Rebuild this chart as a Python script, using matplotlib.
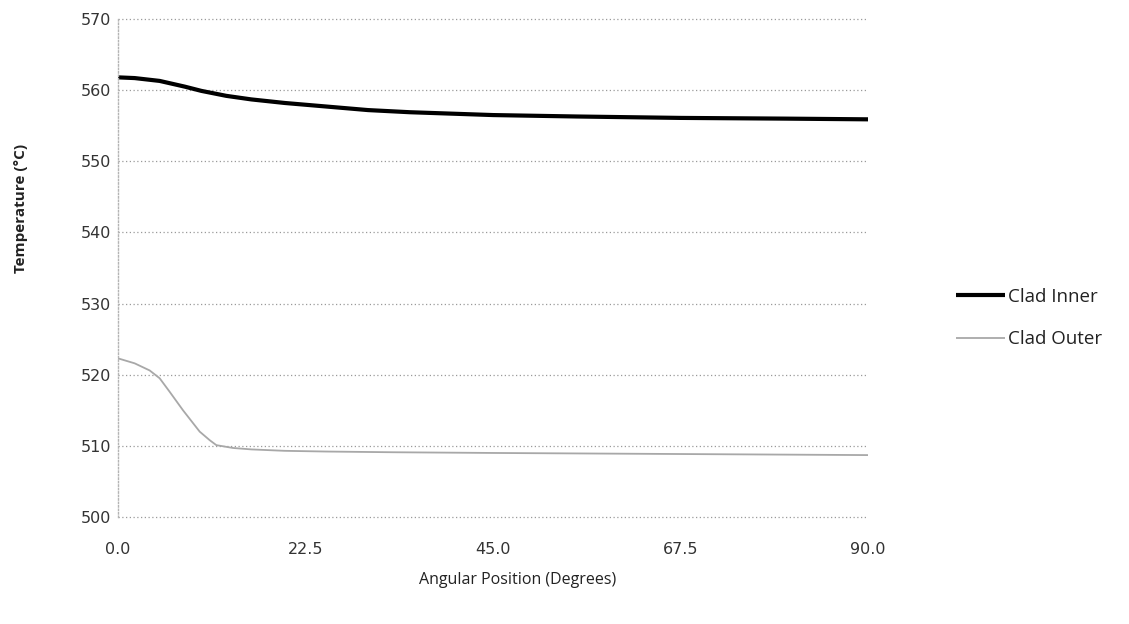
import matplotlib
matplotlib.use("Agg")
import matplotlib.pyplot as plt

# Angular position (degrees) and clad temperatures (°C)
angle_inner = [0.0, 2.0, 5.0, 8.0, 10.0, 13.0, 16.0, 20.0, 25.0, 30.0, 35.0,
               45.0, 55.0, 67.5, 80.0, 90.0]
clad_inner = [561.8, 561.7, 561.3, 560.5, 559.9, 559.2, 558.7, 558.2, 557.7,
              557.2, 556.9, 556.5, 556.3, 556.1, 556.0, 555.9]

angle_outer = [0.0, 2.0, 3.8, 5.0, 6.2, 7.8, 9.8, 11.0, 11.8, 13.8, 16.0, 20.0,
               25.0, 33.0, 45.0, 60.0, 75.0, 90.0]
clad_outer = [522.3, 521.6, 520.6, 519.5, 517.6, 515.0, 512.0, 510.8, 510.1,
              509.7, 509.5, 509.3, 509.2, 509.1, 509.0, 508.9, 508.8, 508.7]

x_ticks = [0.0, 22.5, 45.0, 67.5, 90.0]
x_tick_labels = ["0.0", "22.5", "45.0", "67.5", "90.0"]
y_ticks = [500, 510, 520, 530, 540, 550, 560, 570]

fig = plt.figure(figsize=(11.29, 6.24), dpi=100)
ax = fig.add_axes([0.1045, 0.1715, 0.6645, 0.798])

ax.plot(angle_inner, clad_inner, color="black", lw=3.0, label="Clad Inner",
        solid_capstyle="butt")
ax.plot(angle_outer, clad_outer, color="#a8a8a8", lw=1.3, label="Clad Outer",
        solid_capstyle="butt")

ax.set_xlim(0, 90)
ax.set_ylim(500, 570)
ax.set_xticks(x_ticks)
ax.set_xticklabels(x_tick_labels)
ax.set_yticks(y_ticks)

for y in y_ticks:
    ax.axhline(y, color="#9a9a9a", lw=0.9, ls=(0, (1, 2)), zorder=0,
               clip_on=False)

for side in ("top", "right", "bottom"):
    ax.spines[side].set_visible(False)
ax.spines["left"].set_color("#b4b4b4")
ax.spines["left"].set_linestyle((0, (1, 1.5)))
ax.spines["left"].set_linewidth(1.0)

ax.tick_params(axis="both", length=0, labelsize=11.5, labelcolor="#333333")
for lbl in ax.get_xticklabels() + ax.get_yticklabels():
    lbl.set_family("DejaVu Sans")
ax.tick_params(axis="y", pad=5)
ax.tick_params(axis="x", pad=18)

ax.set_xlabel("Angular Position (Degrees)", fontsize=11.5, family="Open Sans",
              color="#222222")
ax.xaxis.set_label_coords(0.533, -0.110)
ax.set_ylabel("Temperature (°C)", fontsize=11, family="Open Sans",
              fontweight="bold", color="#222222")
ax.yaxis.set_label_coords(-0.12, 0.62)

leg = fig.legend(loc="center left", bbox_to_anchor=(0.832, 0.490),
                 frameon=False, handlelength=2.6, handletextpad=0.15,
                 labelspacing=1.3, prop={"family": "Open Sans", "size": 13.5})
for t in leg.get_texts():
    t.set_color("#222222")

fig.savefig("out.png", dpi=100, facecolor="white")
